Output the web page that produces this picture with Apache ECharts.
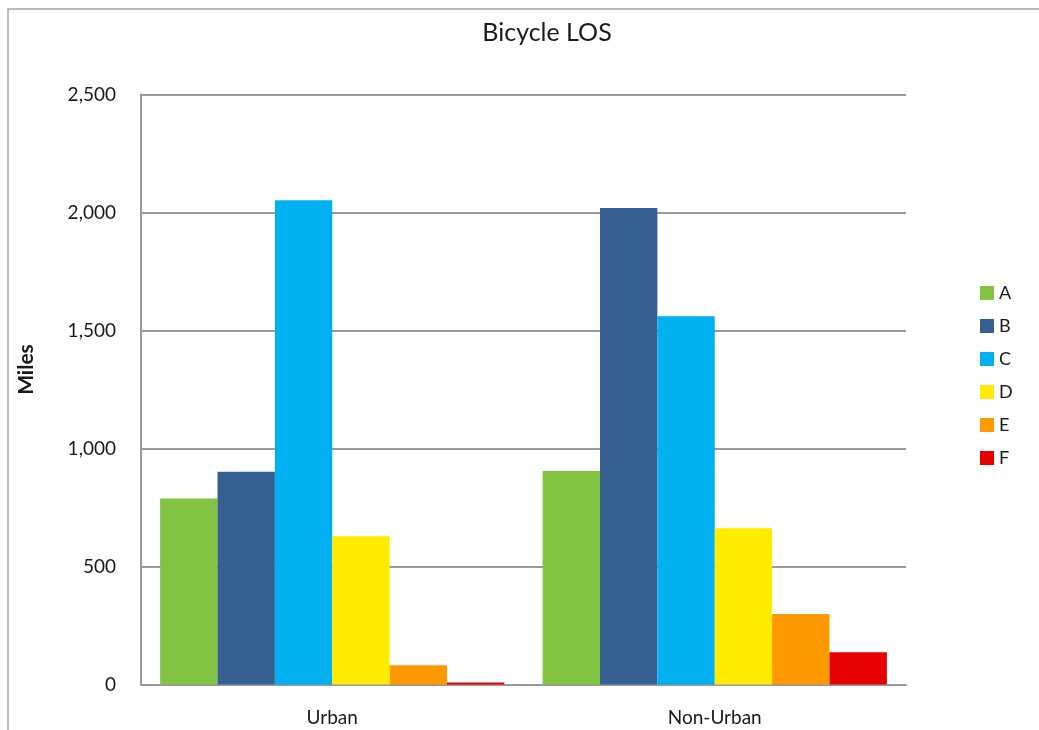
<!DOCTYPE html>
<html>
<head>
<meta charset="utf-8">
<style>
  html, body { margin: 0; padding: 0; background: #fff; }
  #chart { width: 1039px; height: 730px; }
</style>
<script src="https://cdn.jsdelivr.net/npm/echarts@6/dist/echarts.min.js"></script>
</head>
<body>
<div id="chart"></div>
<script>
// Miles of roadway by bicycle level of service
const categories = ['Urban', 'Non-Urban'];
const losA = [788, 905];
const losB = [901, 2019];
const losC = [2052, 1560];
const losD = [628, 662];
const losE = [82, 299];
const losF = [8, 137];
const seriesNames = ['A', 'B', 'C', 'D', 'E', 'F'];
const seriesValues = [losA, losB, losC, losD, losE, losF];
const seriesColors = ['#82c341', '#366092', '#00b0f0', '#ffeb00', '#ff9900', '#e60000'];
const yTicks = [0, 500, 1000, 1500, 2000, 2500];

const FONT = 'Lato, "Open Sans", sans-serif';
const chart = echarts.init(document.getElementById('chart'), null, { renderer: 'canvas' });

chart.setOption({
  backgroundColor: '#fff',
  animation: false,
  textStyle: { fontFamily: FONT },
  graphic: [{
    type: 'polyline',
    shape: { points: [[8, 735], [8, 9], [1045, 9]] },
    style: { stroke: '#a6a6a6', lineWidth: 1.5, fill: null },
    silent: true
  }],
  title: {
    text: 'Bicycle LOS',
    left: 542,
    textAlign: 'center',
    top: 15,
    textStyle: { fontFamily: FONT, fontSize: 25, fontWeight: 'normal', color: '#1a1a1a' }
  },
  legend: {
    orient: 'vertical',
    left: 975,
    top: 279,
    itemWidth: 14,
    itemHeight: 14,
    itemGap: 15,
    icon: 'rect',
    data: seriesNames,
    textStyle: { fontFamily: FONT, fontSize: 18, lineHeight: 16, color: '#1a1a1a' }
  },
  grid: { left: 141, right: 133, top: 94.5, bottom: 45.5, containLabel: false },
  xAxis: {
    type: 'category',
    data: categories,
    axisLine: { lineStyle: { color: '#999', width: 2 } },
    axisTick: { show: false },
    axisLabel: { margin: 24, fontFamily: FONT, fontSize: 19, color: '#1a1a1a' }
  },
  yAxis: {
    type: 'value',
    min: yTicks[0],
    max: yTicks[yTicks.length - 1],
    interval: 500,
    name: 'Miles',
    nameLocation: 'middle',
    nameGap: 104,
    nameRotate: 90,
    nameTextStyle: {
      fontFamily: FONT, fontSize: 21, fontWeight: 'bold', color: '#1a1a1a',
      padding: [0, 0, 0, 40]
    },
    axisLine: { show: true, lineStyle: { color: '#999', width: 2 } },
    axisTick: { show: false },
    splitLine: { lineStyle: { color: '#9a9a9a', width: 2 } },
    axisLabel: {
      margin: 25,
      fontFamily: FONT,
      fontSize: 19,
      color: '#1a1a1a',
      formatter: v => v.toLocaleString('en-US')
    }
  },
  series: seriesNames.map((name, i) => ({
    name,
    type: 'bar',
    data: seriesValues[i],
    barGap: '0%',
    barCategoryGap: '10%',
    itemStyle: { color: seriesColors[i] }
  }))
});
</script>
</body>
</html>
